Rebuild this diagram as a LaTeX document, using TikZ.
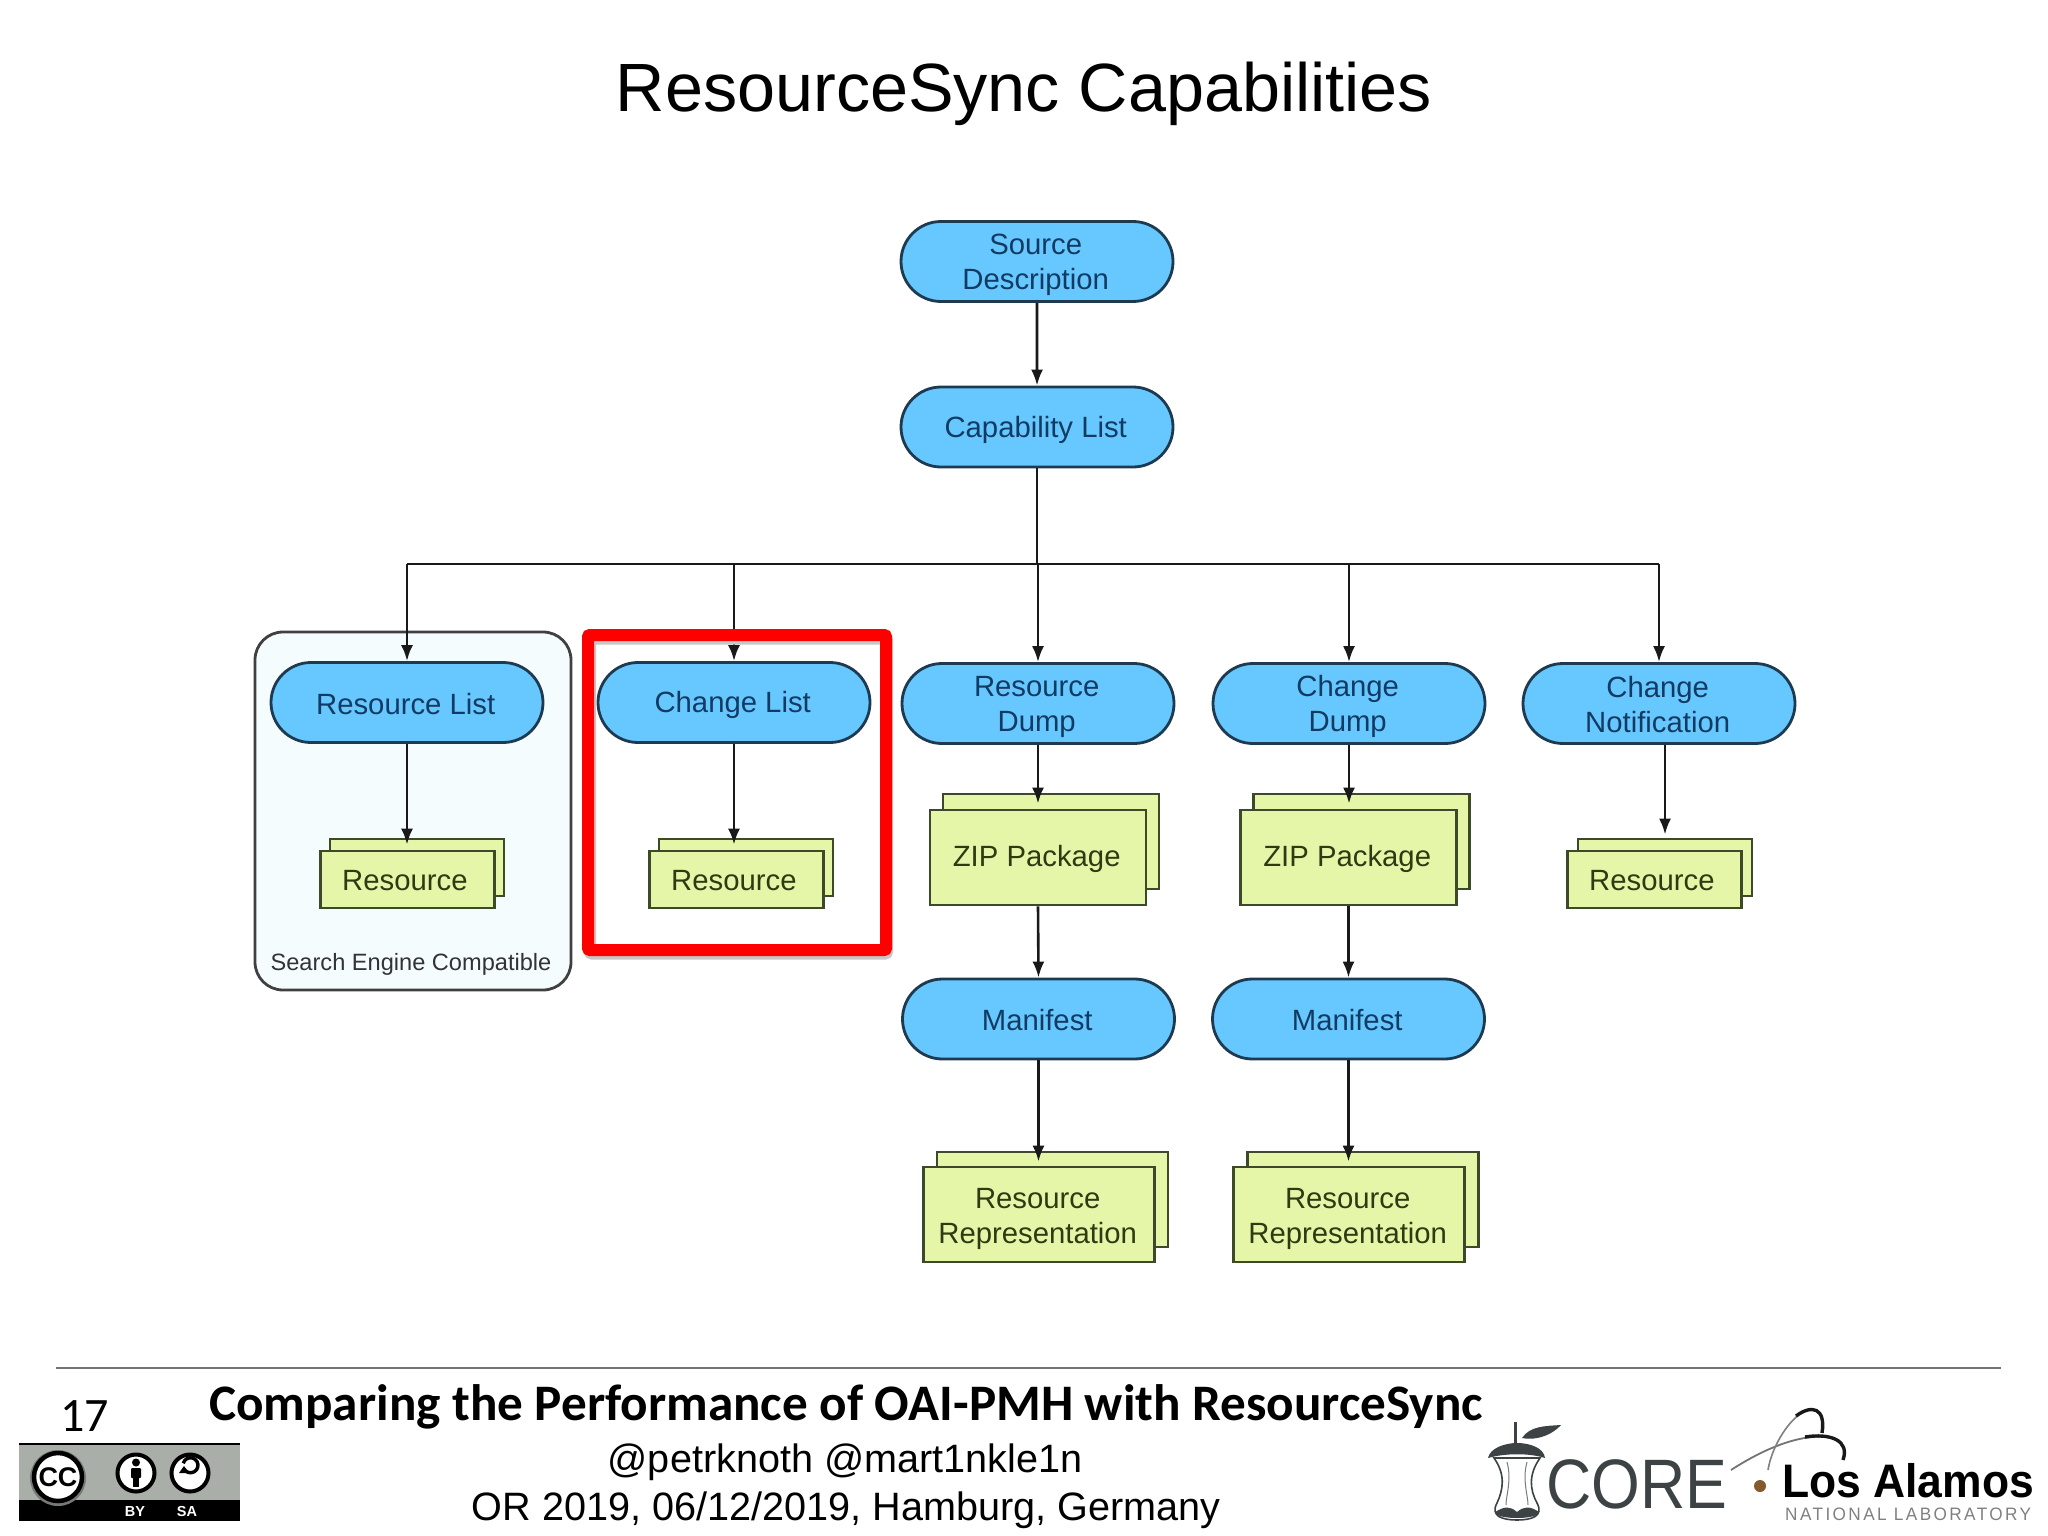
\documentclass[tikz,border=0pt]{standalone}
\usepackage{fontspec}
\setmainfont{Liberation Sans}
\newfontfamily\carlitofont{Carlito}
\newfontfamily\spacedfont[LetterSpace=14]{Liberation Sans}
\usetikzlibrary{shapes.misc,arrows.meta}
\definecolor{pillfill}{HTML}{66C8FF}
\definecolor{pillline}{HTML}{1E3A50}
\definecolor{pilltext}{HTML}{123B63}
\definecolor{boxfill}{HTML}{E6F6A8}
\definecolor{boxline}{HTML}{3D4A2A}
\definecolor{boxtext}{HTML}{2F3A12}
\definecolor{ccgrey}{HTML}{A9AEA9}
\definecolor{coregrey}{HTML}{3D4244}
\newcommand\hgt[1]{\rule{0pt}{#1pt}}
\newcommand\nudge{\hspace*{2.6pt}}
\tikzset{
  pill/.style={rounded rectangle,draw=pillline,fill=pillfill,line width=2.8pt,minimum width=272pt,minimum height=80pt,inner sep=0pt,align=center,text=pilltext,font=\fontsize{29.3}{35}\selectfont},
  stackbox/.style={rectangle,draw=boxline,fill=boxfill,line width=2.8pt,inner sep=0pt,align=center,text=boxtext,font=\fontsize{29.3}{35}\selectfont},
  conn/.style={draw=black!90,line width=2.6pt},
  arr/.style={conn,-{Latex[length=16pt,width=12pt]}},
  smallbox/.style={stackbox,minimum width=174pt,minimum height=57pt},
  zipbox/.style={stackbox,minimum width=216pt,minimum height=95pt},
  repbox/.style={stackbox,minimum width=231pt,minimum height=95pt},
}
\begin{document}
\begin{tikzpicture}[x=1pt,y=-1pt]
\useasboundingbox (0,0) rectangle (2048,1536);
\fill[white] (0,0) rectangle (2048,1536);

% title
\node[anchor=base,inner sep=0pt,font=\fontsize{68.3}{80}\selectfont] (title) at (1024,112) {ResourceSync Capabilities};

% search engine container
\node[rectangle,rounded corners=28pt,draw=black!75,fill=cyan!4,line width=2.8pt,minimum width=316pt,minimum height=358pt,inner sep=0pt] (sec) at (413,811) {};
\node[anchor=base,inner sep=0pt,text=black!80,font=\fontsize{23.6}{28}\selectfont] (seclabel) at (411,970) {Search Engine Compatible};

% pills
\node[pill] (src) at (1037,261.5) {\hgt{27}Source\nudge\\Description\nudge};
\node[pill] (cap) at (1037,427) {\hgt{26.6}Capability List\nudge};
\node[pill] (rl) at (407,702.5) {\hgt{23.4}Resource List\nudge};
\node[pill] (cl) at (734,702.5) {\hgt{25.4}Change List\nudge};
\node[pill] (rd) at (1038,703.5) {\hgt{27}Resource\nudge\\Dump\nudge};
\node[pill] (cd) at (1349,703.5) {\hgt{27}Change\nudge\\Dump\nudge};
\node[pill] (cn) at (1659,703.5) {\hgt{22.5}Change\nudge\\Notification\nudge};
\node[pill] (m1) at (1038.5,1019) {\hgt{24}Manifest\nudge};
\node[pill] (m2) at (1348.5,1019) {\hgt{24}Manifest\nudge};

% stacks
\node[smallbox] (r1b) at (417,867.5) {};
\node[smallbox] (r1) at (407.5,879.5) {\hgt{22.5}Resource\nudge\nudge};
\node[smallbox] (r2b) at (746,867.5) {};
\node[smallbox] (r2) at (736.5,879.5) {\hgt{22.5}Resource\nudge\nudge};
\node[smallbox] (r3b) at (1665,867.5) {};
\node[smallbox] (r3) at (1654.5,879.5) {\hgt{22.5}Resource\nudge\nudge};
\node[zipbox] (z1b) at (1051,841.5) {};
\node[zipbox] (z1) at (1038,857.5) {\hgt{24}ZIP Package\nudge};
\node[zipbox] (z2b) at (1361.5,841.5) {};
\node[zipbox] (z2) at (1348.5,857.5) {\hgt{24}ZIP Package\nudge};
\node[repbox] (p1b) at (1052.5,1199.5) {};
\node[repbox] (p1) at (1039,1214.5) {\hgt{29.8}Resource\nudge\\Representation\nudge};
\node[repbox] (p2b) at (1363,1199.5) {};
\node[repbox] (p2) at (1349,1214.5) {\hgt{29.8}Resource\nudge\\Representation\nudge};

% connectors
\coordinate (bus) at (1037,564);
\draw[arr] (src) -- (cap);
\draw[conn] (cap) -- (bus);
\draw[conn] (rl.north |- bus) -- (cn.north |- bus);
\draw[arr] (rl.north |- bus) -- (rl.north);
\draw[arr] (cl.north |- bus) -- (cl.north);
\draw[arr] (rd.north |- bus) -- (rd.north);
\draw[arr] (cd.north |- bus) -- (cd.north);
\draw[arr] (cn.north |- bus) -- (cn.north);
\draw[arr,shorten >=-7pt] (rl.south) -- (rl.south |- r1b.north);
\draw[arr,shorten >=-7pt] (cl.south) -- (cl.south |- r2b.north);
\draw[arr,shorten >=3pt] (cn.south -| r3b.north) -- (r3b.north);
\draw[arr,shorten >=-11pt] (rd.south) -- (rd.south |- z1b.north);
\draw[arr,shorten >=-11pt] (cd.south) -- (cd.south |- z2b.north);
\draw[arr] (z1.south) -- (m1.north);
\draw[arr] (z2.south) -- (m2.north);
\draw[arr,shorten >=-11pt] (m1.south) -- (m1.south |- p1b.north);
\draw[arr,shorten >=-11pt] (m2.south) -- (m2.south |- p2b.north);

% red highlight
\draw[black!22,line width=12pt,rounded corners=2pt] (590,638.5) rectangle (887,953.5);
\node[rectangle,draw=red,line width=12pt,rounded corners=2pt,minimum width=298pt,minimum height=315pt,inner sep=0pt] (hl) at (737,792.5) {};

% footer
\draw[black!55,line width=1.4pt] (56,1368) coordinate (fl) -- (2001,1368) coordinate (fr);
\node[anchor=base west,inner sep=0pt,font=\carlitofont\fontsize{48}{56}\selectfont] (num) at (60,1431) {17};
\node[anchor=base west,inner sep=0pt,font=\carlitofont\bfseries\fontsize{51.2}{60}\selectfont] (foot1) at (209,1420) {Comparing the Performance of OAI-PMH with ResourceSync};
\node[anchor=base,inner sep=0pt,font=\fontsize{39.6}{46}\selectfont] (foot2) at (845,1472) {@petrknoth @mart1nkle1n};
\node[anchor=base,inner sep=0pt,font=\fontsize{39.6}{46}\selectfont] (foot3) at (846,1520) {OR 2019, 06/12/2019, Hamburg, Germany};

% CC badge
\fill[ccgrey] (19,1444) rectangle (240,1521);
\fill[black] (19,1500) rectangle (240,1521);
\draw[black,line width=1.6pt] (19,1444) -- (240,1444);
\fill[ccgrey!70!black] (58,1478) circle (28);
\draw[black,line width=4.5pt,fill=white] (58,1477) circle (24);
\node[inner sep=0pt,font=\bfseries\fontsize{27}{30}\selectfont] (cct) at (58,1477) {CC};
\draw[black,line width=4pt,fill=white] (136,1473) circle (18.5);
\fill[black] (136,1462.5) circle (4);
\fill[black,rounded corners=1pt] (131,1468) rectangle (141,1478);
\fill[black] (133,1476) rectangle (139,1487);
\draw[black,line width=4pt,fill=white] (190,1473) circle (18.5);
\draw[black,line width=3.4pt] (184,1469) arc[start angle=150,end angle=-165,radius=7.5];
\fill[black] (179,1473) -- (189,1473) -- (184,1466) -- cycle;
\node[inner sep=0pt,text=white,font=\bfseries\fontsize{14.5}{16}\selectfont] (by) at (135,1511) {BY};
\node[inner sep=0pt,text=white,font=\bfseries\fontsize{14.5}{16}\selectfont] (sa) at (187,1511) {SA};

% CORE logo
\draw[coregrey,line width=2.6pt] (1515.5,1422) -- (1515.5,1444);
\fill[coregrey] (1522,1438) .. controls (1530,1426) and (1545,1426) .. (1561,1425) .. controls (1553,1434) and (1538,1441) .. (1522,1438) -- cycle;
\draw[coregrey,line width=1.6pt,fill=white] (1494,1458) .. controls (1506,1475) and (1503,1490) .. (1497,1503) .. controls (1490,1516) and (1502,1520) .. (1517,1520) .. controls (1532,1520) and (1544,1516) .. (1537,1503) .. controls (1530,1490) and (1528,1475) .. (1540,1458) -- cycle;
\fill[coregrey] (1488,1458) .. controls (1490,1448) and (1505,1443) .. (1517,1443) .. controls (1530,1443) and (1544,1448) .. (1545,1458) .. controls (1530,1453) and (1505,1453) .. (1488,1458) -- cycle;
\fill[coregrey] (1495,1512) .. controls (1505,1506) and (1510,1506) .. (1517,1512) .. controls (1524,1506) and (1530,1506) .. (1539,1512) .. controls (1539,1520) and (1495,1520) .. (1495,1512) -- cycle;
\draw[coregrey!70,line width=1pt] (1507,1462) .. controls (1512,1480) and (1506,1495) .. (1506,1505);
\draw[coregrey!70,line width=1pt] (1527,1462) .. controls (1522,1480) and (1528,1495) .. (1528,1505);
\node[anchor=base west,inner sep=0pt,xscale=0.895,text=coregrey,font=\fontsize{70}{80}\selectfont] (core) at (1546,1508) {CORE};

% Los Alamos logo
\draw[black!55,line width=1.8pt] (1731,1470) .. controls (1765,1448) and (1800,1434) .. (1828,1437);
\draw[black!90,line width=3.4pt] (1805,1437) .. controls (1830,1433) and (1850,1440) .. (1843,1460);
\draw[black!50,line width=1.6pt] (1768,1470) .. controls (1772,1445) and (1790,1418) .. (1805,1411);
\draw[black!90,line width=3.4pt] (1796,1416) .. controls (1812,1404) and (1826,1408) .. (1822,1433);
\fill[brown!70!black] (1760,1486) circle (6);
\node[anchor=base west,inner sep=0pt,xscale=0.945,text=black,font=\bfseries\fontsize{47}{54}\selectfont] (la) at (1782,1497) {Los Alamos};
\node[anchor=base west,inner sep=0pt,xscale=0.955,text=black!50,font=\spacedfont\fontsize{18}{20}\selectfont] (nl) at (1785,1520) {NATIONAL LABORATORY};
\end{tikzpicture}
\end{document}
